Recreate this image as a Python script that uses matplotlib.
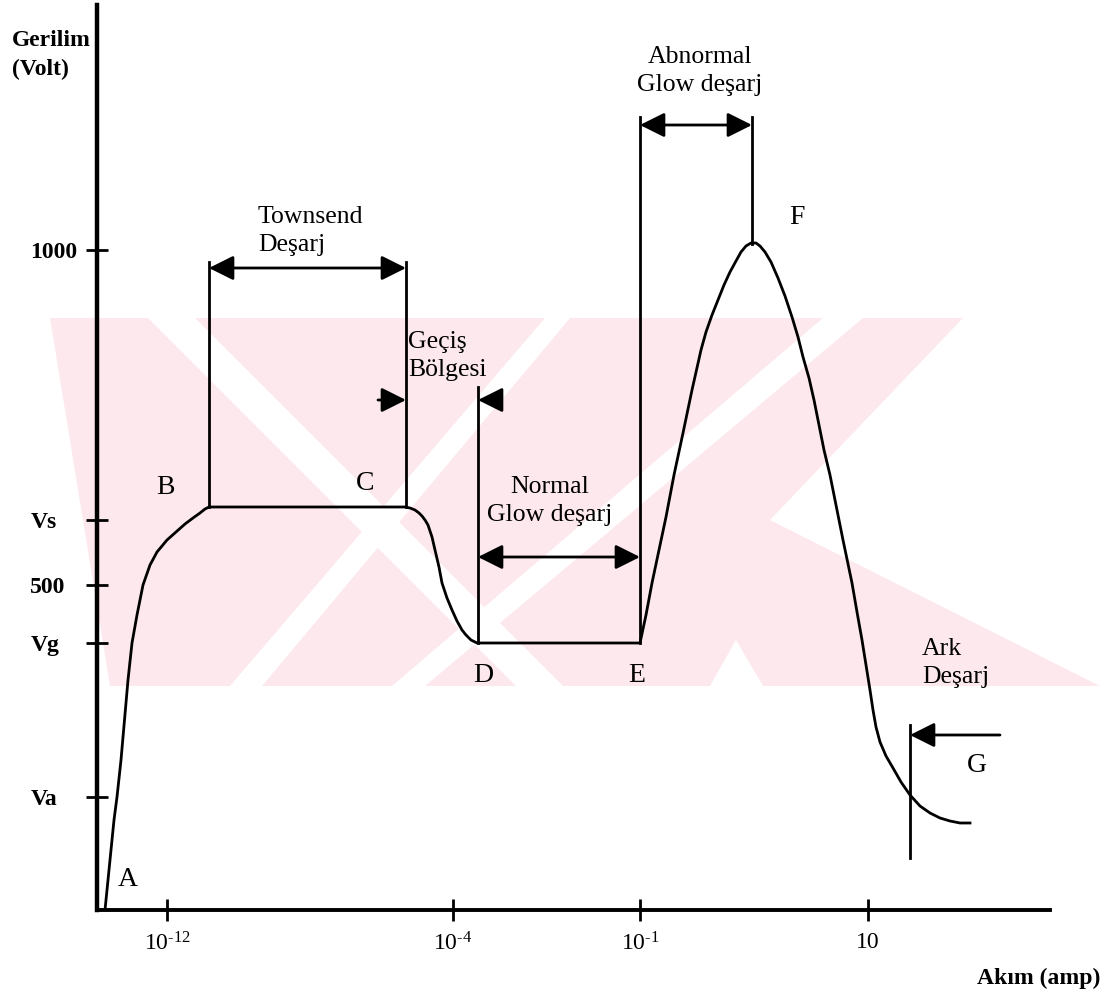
import matplotlib
matplotlib.use("Agg")
import matplotlib.pyplot as plt
from matplotlib.patches import Polygon, FancyArrowPatch
from matplotlib.transforms import Affine2D

plt.rcParams['font.family'] = ['Liberation Serif', 'DejaVu Serif']
plt.rcParams['mathtext.fontset'] = 'custom'
plt.rcParams['mathtext.rm'] = 'Liberation Serif'
plt.rcParams['mathtext.it'] = 'Liberation Serif:italic'
plt.rcParams['mathtext.bf'] = 'Liberation Serif:bold'

# ---- data (schematic units: x = current position, y = voltage position) ----
curve_x = [8, 13, 17, 20, 24, 31, 35, 40, 46, 53, 60, 70, 79, 88, 96, 103, 108, 112,
           308, 313, 318, 322, 325, 328, 331, 335, 338, 342, 345, 350, 355, 360, 365,
           369, 374, 380,
           543, 549, 555, 562, 569, 577, 586, 595, 604, 609, 615, 621, 627, 633, 639,
           644, 649, 654, 659, 663, 668, 674, 681, 688, 695, 701, 706, 712, 717, 722,
           727, 733, 738, 746, 755, 760, 765, 769, 773, 776, 779, 783, 789, 796, 804,
           813, 823, 833, 843, 853, 863, 873]
curve_y = [0, 50, 90, 113, 150, 230, 267, 295, 325, 345, 358, 370, 378, 386, 392, 397, 401, 403,
           403, 402, 400, 397, 394, 390, 385, 373, 360, 343, 327, 312, 300, 289, 280,
           275, 270, 267,
           267, 295, 327, 360, 393, 435, 477, 520, 560, 578, 595, 610, 625, 638, 649,
           658, 664, 667, 667, 664, 658, 648, 632, 614, 593, 573, 553, 532, 510, 485,
           460, 435, 410, 370, 327, 298, 270, 245, 220, 200, 183, 168, 154, 142, 128,
           115, 104, 97, 92, 89, 87, 87]

x_tick_pos = [70, 356, 543, 771]
x_tick_labels = ['10$^{\u201012}$', '10$^{\u20104}$', '10$^{\u20101}$', '10']
y_tick_pos = [660, 390, 325, 267, 113]
y_tick_labels = ['1000', 'Vs', '500', 'Vg', 'Va']

point_labels = ['A', 'B', 'C', 'D', 'E', 'F', 'G']
point_x = [31, 68, 268, 386, 540, 700, 880]
point_y = [30, 423, 427, 235, 235, 692, 145]

# vertical marker lines: x, y_bottom, y_top
vline_x = [112, 309, 381, 543, 655, 813]
vline_y0 = [403, 403, 267, 267, 666, 52]
vline_y1 = [648, 648, 523, 793, 793, 185]

# region arrows: x_start, x_end, y, style
arrow_x0 = [112, 281, 403, 381, 543, 903]
arrow_x1 = [309, 309, 381, 543, 655, 813]
arrow_y = [642, 510, 510, 353, 785, 175]
arrow_style = ['<|-|>', '-|>', '-|>', '<|-|>', '<|-|>', '-|>']

region_texts = ['Townsend\nDeşarj', 'Geçiş\nBölgesi', 'Normal\nGlow deşarj',
                'Abnormal\nGlow deşarj', 'Ark\nDeşarj']
region_x = [161, 311, 453, 603, 825]
region_y = [679, 554, 409, 839, 247]
region_ha = ['left', 'left', 'center', 'center', 'left']

# ---- figure ----
W, H = 1112, 998
fig = plt.figure(figsize=(W / 100, H / 100), dpi=100)
fig.patch.set_facecolor('white')

# watermark (pale pink logo) in image-pixel coordinates, behind the chart
px = Affine2D().scale(1 / W, -1 / H).translate(0, 1) + fig.transFigure
pink = '#fde9ed'
wm_polys = [
    [(50, 318), (963, 318), (770, 520), (1100, 686), (110, 686)],
]
white_polys = [
    [(148, 318), (195, 318), (563, 686), (516, 686)],
    [(545, 318), (570, 318), (262, 686), (230, 686)],
    [(823, 318), (863, 318), (425, 686), (392, 686)],
    [(710, 686), (763, 686), (736, 640)],
]
for p in wm_polys:
    fig.patches.append(Polygon(p, closed=True, transform=px, facecolor=pink,
                               edgecolor='none', zorder=-10))
for p in white_polys:
    fig.patches.append(Polygon(p, closed=True, transform=px, facecolor='white',
                               edgecolor='none', zorder=-9))

ax = fig.add_axes([97 / W, (H - 910) / H, (1050 - 97) / W, (910 - 5) / H])
ax.set_facecolor('none')
ax.set_xlim(0, 953)
ax.set_ylim(0, 905)
for s in ['top', 'right']:
    ax.spines[s].set_visible(False)
ax.spines['left'].set_linewidth(3.2)
ax.spines['bottom'].set_linewidth(2.8)

ax.set_xticks(x_tick_pos)
ax.set_xticklabels(x_tick_labels, fontsize=17)
ax.set_yticks(y_tick_pos)
ax.set_yticklabels(y_tick_labels, fontsize=17, fontweight='bold')
ax.tick_params(axis='both', direction='inout', length=16, width=2, color='black')
ax.tick_params(axis='x', pad=8)
ax.tick_params(axis='y', pad=40)
for lab in ax.get_yticklabels():
    lab.set_horizontalalignment('left')

ax.plot(curve_x, curve_y, color='black', lw=2.0, solid_joinstyle='round')

for x, y0, y1 in zip(vline_x, vline_y0, vline_y1):
    ax.plot([x, x], [y0, y1], color='black', lw=2.0)

for x0, x1, y, st in zip(arrow_x0, arrow_x1, arrow_y, arrow_style):
    ax.add_patch(FancyArrowPatch((x0, y), (x1, y),
                                 arrowstyle=st + ',head_length=1.0,head_width=0.5',
                                 mutation_scale=15, color='black', lw=2.0,
                                 shrinkA=0, shrinkB=0))

for t, x, y in zip(point_labels, point_x, point_y):
    ax.text(x, y, t, fontsize=20, ha='center', va='center')

for t, x, y, ha in zip(region_texts, region_x, region_y, region_ha):
    ax.text(x, y, t, fontsize=18.5, ha=ha, va='center', linespacing=1.35,
            multialignment='center' if ha == 'center' else 'left')

ax.text(-85, 855, 'Gerilim\n(Volt)', fontsize=17, fontweight='bold',
        ha='left', va='center', linespacing=1.5, clip_on=False)
ax.text(1100 - 97, 910 - 978, 'Akım (amp)', fontsize=17, fontweight='bold',
        ha='right', va='center', clip_on=False)

fig.savefig('out.png', dpi=100)
